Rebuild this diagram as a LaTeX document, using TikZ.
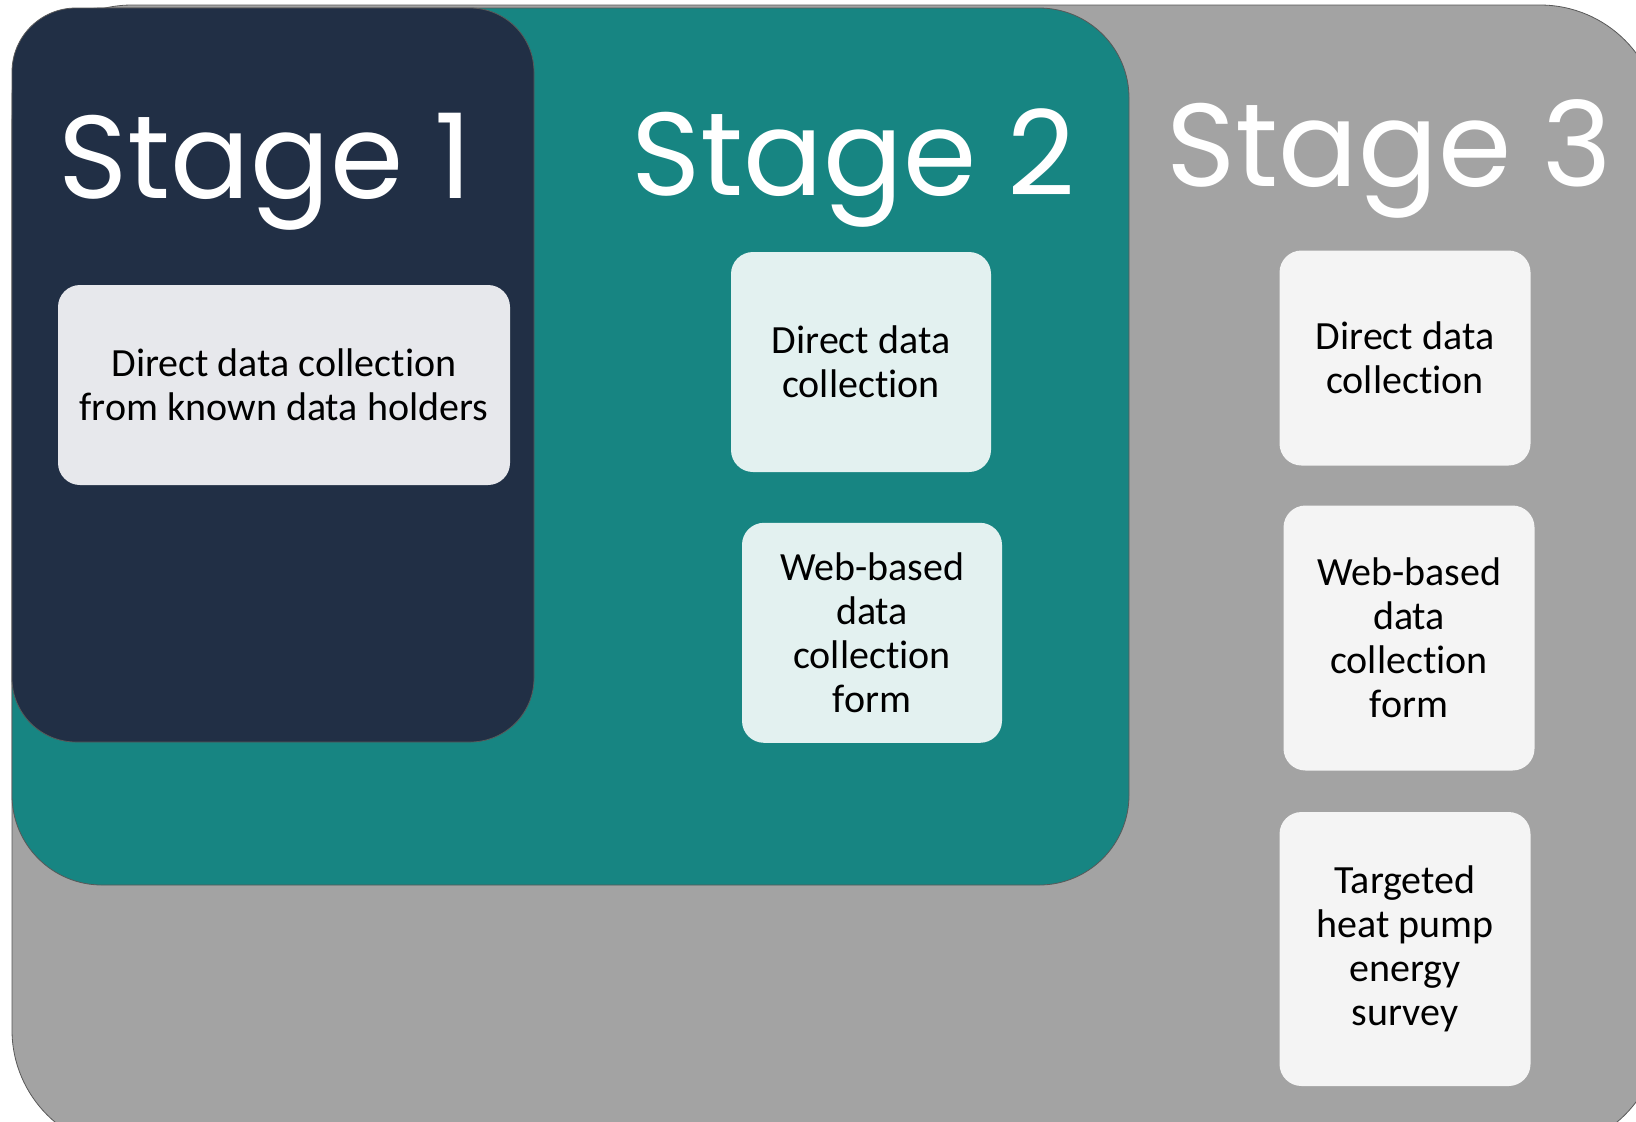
\documentclass[tikz,border=0pt]{standalone}
\usepackage{fontspec}
\setmainfont{Carlito}[Ligatures=NoCommon]
\newfontfamily\stagefont{Poppins}
\usetikzlibrary{positioning}

\definecolor{stagegray}{HTML}{A3A3A3}
\definecolor{stageteal}{HTML}{178582}
\definecolor{stagenavy}{HTML}{212F45}
\definecolor{cardone}{HTML}{E7E8EC}
\definecolor{cardtwo}{HTML}{E3F1F0}
\definecolor{cardthree}{HTML}{F4F4F4}

\tikzset{
  panel/.style={draw=black!65, line width=0.4pt},
  card/.style={rounded corners=11pt, align=center, inner sep=0pt,
    font=\fontsize{20}{22}\selectfont, text=black},
  stagelabel/.style={text=white, font=\stagefont\fontsize{59}{59}\selectfont,
    anchor=base west, inner sep=0pt},
}

\begin{document}
\begin{tikzpicture}[x=0.5pt, y=-0.5pt]
\useasboundingbox (0,0) rectangle (1636,1121);
\clip (0,0) rectangle (1636,1121);
% stage panels
\path [panel, fill=stagegray, rounded corners=60pt] (12,5) rectangle (1660,1150);
\path [panel, fill=stageteal, rounded corners=45pt] (12,8) rectangle (1129,885);
\path [panel, fill=stagenavy, rounded corners=32pt] (12,8) rectangle (534,742);
% titles
\node [stagelabel] (t1) at (58,198) {Stage 1};
\node [stagelabel] (t2) at (631,195) {Stage 2};
\node [stagelabel] (t3) at (1166,186) {Stage 3};
% stage 1
\node [card, fill=cardone, minimum width=226pt, minimum height=100pt] (s1direct) at (284,385) {Direct data collection\\from known data holders};
% stage 2
\node [card, fill=cardtwo, minimum width=130pt, minimum height=110pt] (s2direct) at (861,362) {Direct data\\collection};
\node [card, fill=cardtwo, minimum width=130pt, minimum height=110pt, below=25pt of s2direct, xshift=5.5pt] (s2web) {Web-based\\data\\collection\\form};
% stage 3
\node [card, fill=cardthree, minimum width=125.5pt, minimum height=107.5pt] (s3direct) at (1405,358) {Direct data\\collection};
\node [card, fill=cardthree, minimum width=125.5pt, minimum height=132.5pt] (s3web) at (1409,638) {Web-based\\data\\collection\\form};
\node [card, fill=cardthree, minimum width=125.5pt, minimum height=137pt] (s3survey) at (1405,949) {Targeted\\heat pump\\energy\\survey};
\end{tikzpicture}
\end{document}
